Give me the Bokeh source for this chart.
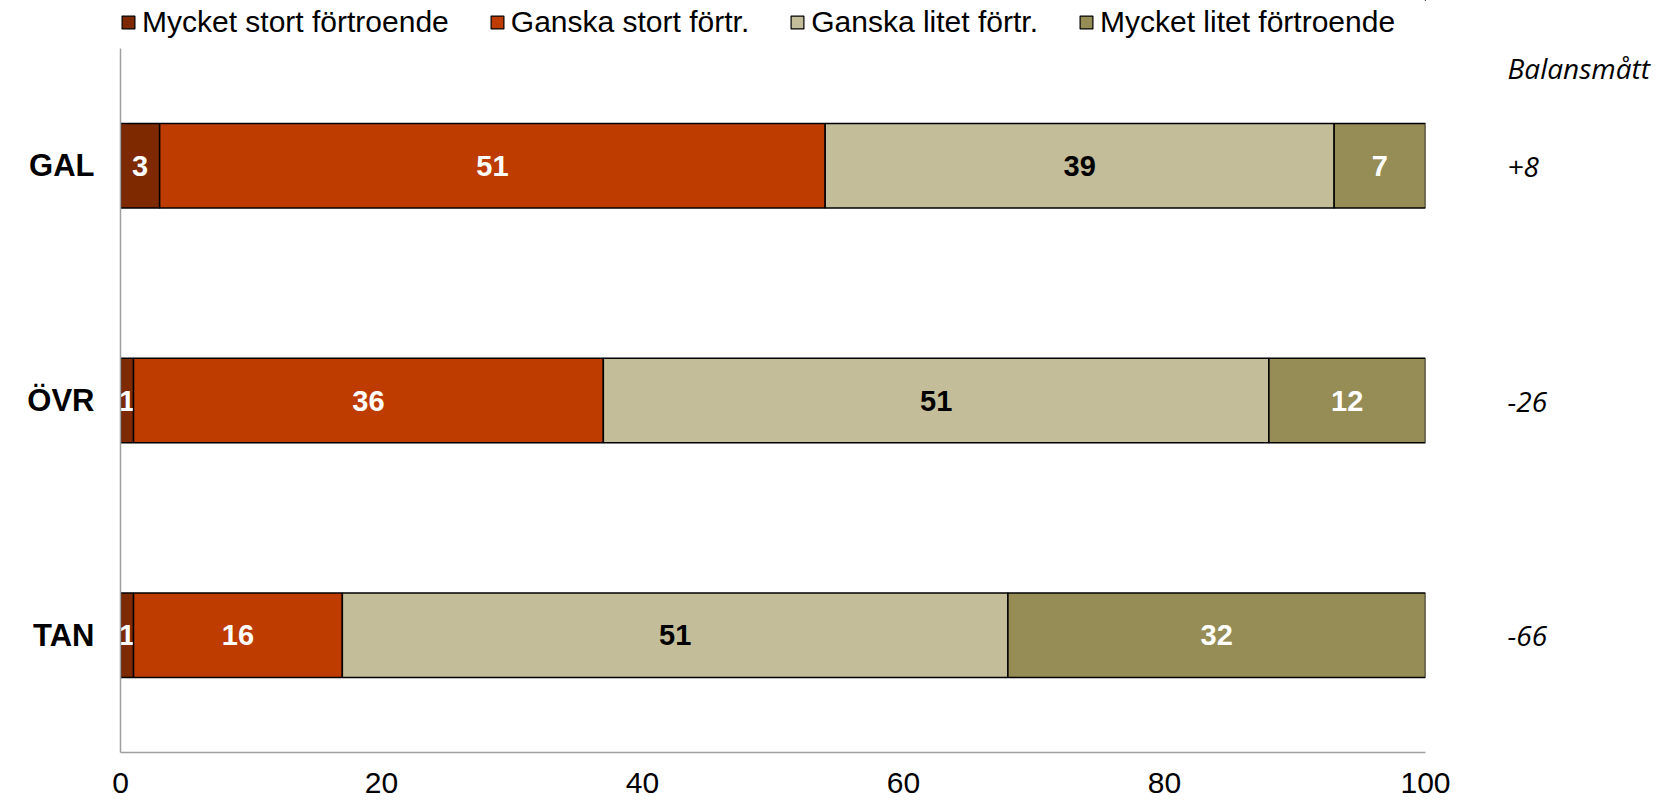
from bokeh.plotting import figure
from bokeh.layouts import column
from bokeh.models import (ColumnDataSource, Legend, LegendItem, LinearAxis,
                          FixedTicker, Range1d)
from bokeh.core.properties import value
from bokeh.embed import file_html
from bokeh.resources import INLINE

# ---- data ----
categories = ["GAL", "ÖVR", "TAN"]
series_names = ["Mycket stort förtroende", "Ganska stort förtr.",
                "Ganska litet förtr.", "Mycket litet förtroende"]
mycket_stort = [3, 1, 1]
ganska_stort = [51, 36, 16]
ganska_litet = [39, 51, 51]
mycket_litet = [7, 12, 32]
balans = ["+8", "-26", "-66"]
balans_title = "Balansmått"
x_ticks = [0, 20, 40, 60, 80, 100]

series_values = [mycket_stort, ganska_stort, ganska_litet, mycket_litet]
colors = ["#7E2900", "#BE3C00", "#C4BD9A", "#968C56"]
label_colors = ["white", "white", "black", "white"]

FONT = "Liberation Sans"
W = 1675
LEG_H = 44

# ---------------- legend strip ----------------
leg = figure(width=W, height=LEG_H, x_range=Range1d(0, 1), y_range=Range1d(0, 1),
             output_backend="svg", toolbar_location=None,
             x_axis_location=None, y_axis_location=None,
             min_border=0, min_border_left=0, min_border_right=0,
             min_border_top=0, min_border_bottom=0)
leg.outline_line_color = None
leg.xgrid.visible = False
leg.ygrid.visible = False
dummy = []
for col in colors:
    # placeholder renderer (outside the visible range) that only feeds the legend
    dummy.append(leg.hbar(y=[5], left=[5], right=[6], height=0.5,
                          fill_color=col, line_color="black", line_width=1.2))
legend = Legend(items=[LegendItem(label=nm, renderers=[r]) for nm, r in zip(series_names, dummy)],
                orientation="horizontal", location="left",
                glyph_width=16, glyph_height=16, label_standoff=6,
                spacing=40, padding=0, margin=0, border_line_color=None,
                background_fill_alpha=0,
                label_text_font=FONT, label_text_font_size="30px",
                label_text_color="black")
leg.add_layout(legend, "center")

# ---------------- main chart ----------------
n = len(categories)
ypos = [n - i - 0.5 for i in range(n)]          # GAL on top, TAN at bottom

H = 805 - LEG_H
p = figure(width=W, height=H,
           y_range=Range1d(0, n), x_range=Range1d(0, 100),
           output_backend="svg", toolbar_location=None,
           min_border_left=120, min_border_right=250,
           min_border_top=4, min_border_bottom=53)
p.outline_line_color = None
p.xgrid.visible = False
p.ygrid.visible = False

left = [0] * n
for nm, vals, col, lcol in zip(series_names, series_values, colors, label_colors):
    right = [l + v for l, v in zip(left, vals)]
    centers = [(l + r) / 2 for l, r in zip(left, right)]
    src = ColumnDataSource(dict(y=ypos, left=left, right=right,
                                cx=centers, txt=[str(v) for v in vals]))
    p.hbar(y="y", left="left", right="right", height=0.36, source=src,
           fill_color=col, line_color="black", line_width=1.5)
    p.text(x="cx", y="y", text="txt", source=src, text_align="center",
           text_baseline="middle", text_color=lcol,
           text_font=value(FONT), text_font_style="bold",
           text_font_size="29px")
    left = right

# x axis
xa = p.xaxis[0]
xa.ticker = FixedTicker(ticks=x_ticks)
xa.axis_line_color = "#A0A0A0"
xa.axis_line_width = 1.5
xa.major_tick_line_color = None
xa.minor_tick_line_color = None
xa.major_tick_out = 0
xa.major_tick_in = 0
xa.major_label_standoff = 20
xa.major_label_text_font = FONT
xa.major_label_text_font_size = "30px"
xa.major_label_text_color = "black"

# y axis (category names)
ya = p.yaxis[0]
ya.ticker = FixedTicker(ticks=ypos)
ya.major_label_overrides = {y: c for y, c in zip(ypos, categories)}
ya.axis_line_color = "#A0A0A0"
ya.axis_line_width = 1.5
ya.major_tick_line_color = None
ya.minor_tick_line_color = None
ya.major_tick_out = 0
ya.major_tick_in = 0
ya.major_label_standoff = 26
ya.major_label_text_font = FONT
ya.major_label_text_font_style = "bold"
ya.major_label_text_font_size = "31px"
ya.major_label_text_color = "black"

# right axis: balance values and header
header_pos = n - 0.082
overrides = {y: t for y, t in zip(ypos, balans)}
overrides[header_pos] = balans_title
ra = LinearAxis(ticker=FixedTicker(ticks=ypos + [header_pos]),
                major_label_overrides=overrides)
ra.axis_line_color = None
ra.major_tick_line_color = None
ra.minor_tick_line_color = None
ra.major_tick_out = 0
ra.major_tick_in = 0
ra.major_label_standoff = 82
ra.major_label_text_font = "Open Sans"
ra.major_label_text_font_style = "italic"
ra.major_label_text_font_size = "28px"
ra.major_label_text_color = "black"
p.add_layout(ra, "right")

layout = column(leg, p, spacing=0)
open("out.html", "w").write(file_html(layout, INLINE))
